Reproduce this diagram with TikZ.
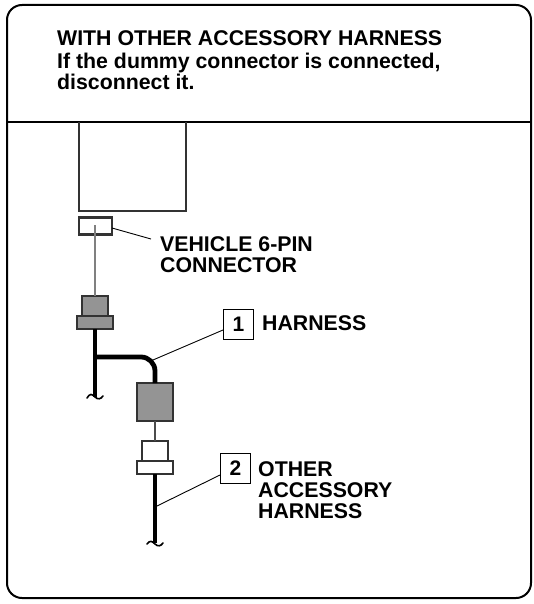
\documentclass[tikz,border=0pt]{standalone}
\usepackage{fontspec}
\setmainfont{Liberation Sans}
\tikzset{
  px/.style={x=1pt,y=-1pt},
  lbl/.style={anchor=base west,inner sep=0pt,font=\fontsize{21.3}{21.3}\selectfont\bfseries},
  part/.style={draw=black!80,line width=2.1pt,inner sep=0pt,outer sep=0pt,minimum width=#1},
  gp/.style={fill=black!42},
  wp/.style={fill=white},
  numbox/.style={draw,line width=1pt,inner sep=0pt,minimum width=30pt,minimum height=30pt,font=\fontsize{21}{21}\selectfont\bfseries},
  leader/.style={line width=0.9pt},
  thick wire/.style={line width=4.8pt},
  thin wire/.style={line width=1.6pt,draw=black!70},
  grey wire/.style={line width=2pt,draw=black!50},
  tail/.style={line width=1.6pt,line cap=round},
}
\begin{document}
\begin{tikzpicture}[px]
\useasboundingbox (0,0) rectangle (533,604);
\node[draw,line width=2pt,rounded corners=15pt,minimum width=524pt,minimum height=593pt,inner sep=0pt] (frame) at (269,301.5) {};
\coordinate (divL) at (7.5,122);
\coordinate (divR) at (530.5,122);
\draw[line width=1.2pt] (divL) -- (divR);
\node[lbl] (t1) at (57,46) {WITH OTHER ACCESSORY HARNESS};
\node[lbl] (t2) at (57,68.5) {If the dummy connector is connected,};
\node[lbl] (t3) at (57,89.5) {disconnect it.};
% vehicle body
\coordinate (bodyTL) at (79,122);
\coordinate (bodyBL) at (79,211);
\coordinate (bodyBR) at (186,211);
\coordinate (bodyTR) at (186,122);
\draw[line width=1.7pt,draw=black!80] (bodyTL) -- (bodyBL) -- (bodyBR) -- (bodyTR);
% vehicle connector
\node[part=33pt,minimum height=17pt,wp] (vc) at (95.5,226) {};
\coordinate (vcin) at (95,225);
% upper grey connector
\node[part=26pt,minimum height=20pt,gp] (gu) at (95,306) {};
\node[part=36pt,minimum height=13pt,gp] (gl) at (95,322.5) {};
\draw[grey wire] (vcin) -- (gu.north);
% branch
\node[part=36pt,minimum height=38pt,gp] (big) at (155,402) {};
\coordinate (w1end) at (95,397);
\coordinate (branch) at (95,357);
\coordinate (corner) at (155,357);
\draw[thick wire] (gl.south) -- (w1end);
\draw[thick wire,rounded corners=14pt] (branch) -- (corner) -- (big.north);
% lower white connector
\node[part=26pt,minimum height=20pt,wp] (wu) at (155,451) {};
\node[part=36pt,minimum height=13pt,wp] (wl) at (155,467.5) {};
\draw[thin wire] (big.south) -- (wu.north);
\coordinate (w2end) at (155,543);
\draw[thick wire] (wl.south) -- (w2end);
% break tails
\draw[tail] (87,398) .. controls (90,393) and (92,394) .. (95,397) .. controls (98,400) and (101,399) .. (103,396);
\draw[tail] (147,544) .. controls (150,540) and (152,541) .. (155,544) .. controls (158,547) and (161,546) .. (163,543);
% labels
\node[lbl] (vl1) at (160,251) {VEHICLE 6-PIN};
\node[lbl] (vl2) at (160,272) {CONNECTOR};
\coordinate (vlead) at (151,239);
\draw[leader] (vc.east) ++(0,2) -- (vlead);
\node[numbox] (n1) at (238.5,324) {1};
\node[lbl] (h1) at (262,330) {HARNESS};
\coordinate (h1end) at (153,360);
\draw[leader] (n1.west) ++(0,6) -- (h1end);
\node[numbox] (n2) at (235.5,468) {2};
\node[lbl] (o1) at (258,476) {OTHER};
\node[lbl] (o2) at (258,497) {ACCESSORY};
\node[lbl] (o3) at (258,518) {HARNESS};
\coordinate (o1end) at (157,506);
\draw[leader] (n2.west) ++(0,7) -- (o1end);
\end{tikzpicture}
\end{document}
